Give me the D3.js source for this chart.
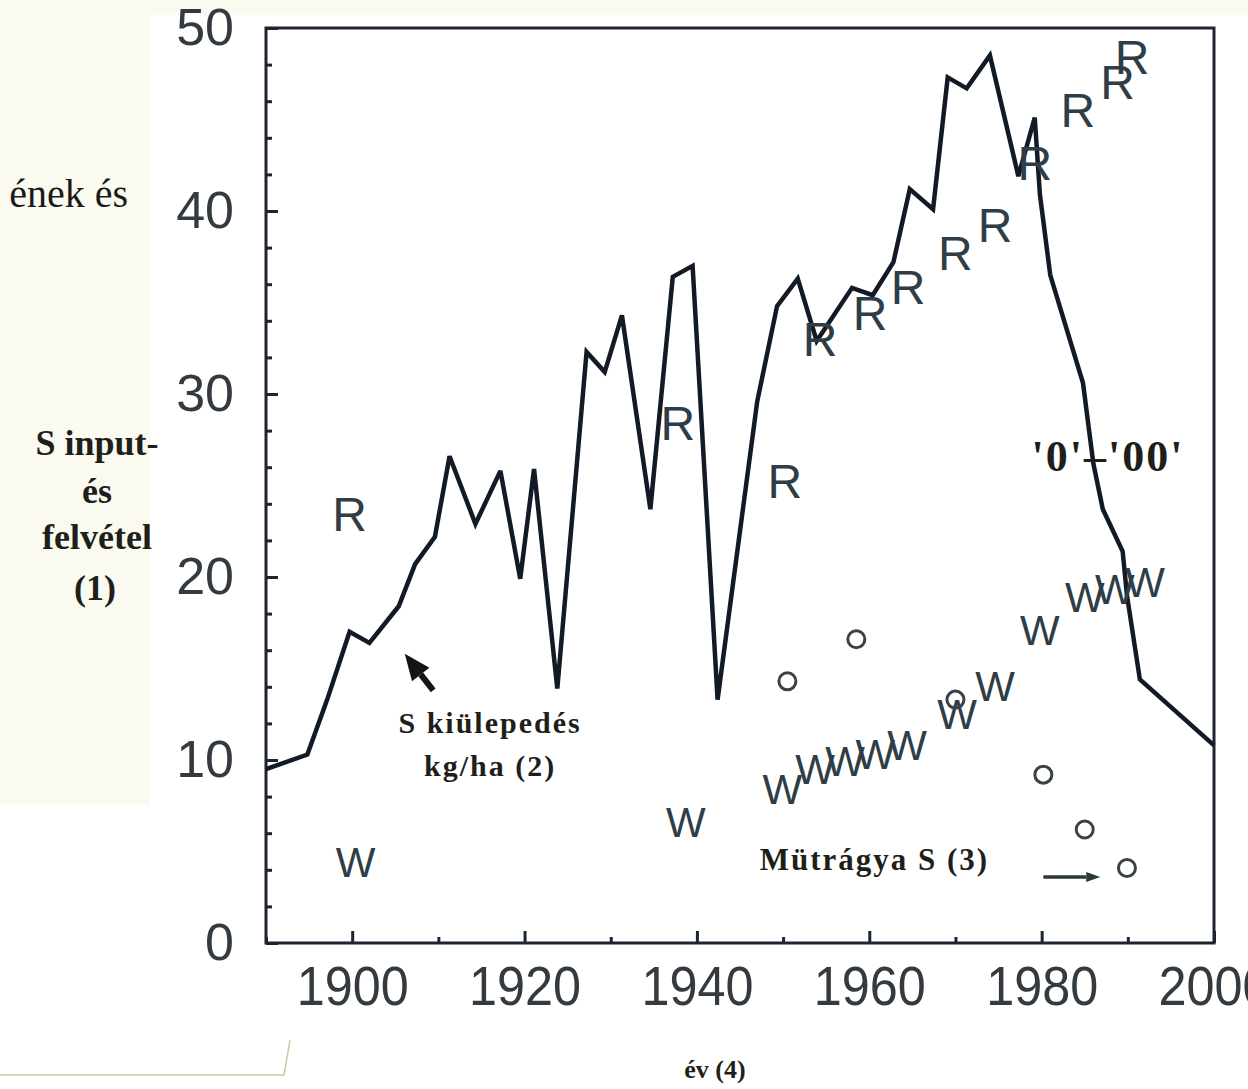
<!DOCTYPE html>
<html>
<head>
<meta charset="utf-8">
<script src="https://cdn.jsdelivr.net/npm/d3@7"></script>
<style>
  body { margin: 0; background: #fff; }
  svg { display: block; }
</style>
</head>
<body>
<svg id="chart" width="1248" height="1089"></svg>
<script>
// S kiülepedés (deposition) line
const depYears = [1890, 1894.8, 1897.1, 1899.7, 1902.0, 1905.4, 1907.3, 1909.6, 1911.3, 1914.3,
  1917.2, 1919.5, 1921.1, 1923.8, 1927.2, 1929.3, 1931.3, 1934.6, 1937.2, 1939.5,
  1942.4, 1947.0, 1949.3, 1951.7, 1953.9, 1958.0, 1960.4, 1962.8, 1964.7, 1967.4,
  1969.1, 1971.3, 1974.0, 1977.3, 1979.2, 1979.8, 1981.0, 1984.8, 1986.0, 1987.1,
  1989.4, 1989.9, 1991.4, 2000];
const depValues = [9.5, 10.3, 13.3, 17.0, 16.4, 18.4, 20.7, 22.2, 26.6, 22.9,
  25.8, 19.9, 25.9, 13.9, 32.3, 31.2, 34.3, 23.7, 36.4, 37.0,
  13.3, 29.6, 34.8, 36.3, 32.9, 35.8, 35.4, 37.2, 41.2, 40.1,
  47.3, 46.7, 48.5, 41.9, 45.1, 40.9, 36.5, 30.6, 26.2, 23.7,
  21.4, 19.0, 14.4, 10.8];

// "R" markers
const rYears = [1899.7, 1937.8, 1950.2, 1954.3, 1960.1, 1964.5, 1970.0, 1974.6, 1979.2, 1984.2, 1988.8, 1990.5];
const rValues = [23.4, 28.4, 25.2, 33.0, 34.4, 35.8, 37.7, 39.2, 42.6, 45.5, 47.0, 48.4];

// "W" markers
const wYears = [1900.4, 1938.7, 1949.9, 1953.7, 1957.2, 1960.7, 1964.4, 1970.2, 1974.6, 1979.8, 1985.0, 1988.5, 1992.0];
const wValues = [4.4, 6.6, 8.4, 9.5, 9.9, 10.3, 10.8, 12.5, 14.0, 17.1, 18.9, 19.3, 19.7];

// Mütrágya S (fertiliser) circles
const fertYears = [1950.5, 1958.5, 1970.0, 1980.2, 1985.0, 1989.9];
const fertValues = [14.3, 16.6, 13.3, 9.2, 6.2, 4.1];

// ticks
const xTicks = [1900, 1920, 1940, 1960, 1980, 2000];
const xMinorTicks = [1890, 1910, 1930, 1950, 1970, 1990];
const yTicks = [0, 10, 20, 30, 40, 50];

const svg = d3.select("#chart");
const ink = "#1d2530";
const serif = "'Liberation Serif', 'DejaVu Serif', serif";
const sans = "'Liberation Sans', Arial, sans-serif";

// slide background (cream) behind the pasted white figure
svg.append("rect").attr("width", 1248).attr("height", 1089).attr("fill", "#ffffff");
svg.append("rect").attr("width", 1248).attr("height", 15).attr("fill", "#fafaf0");
svg.append("rect").attr("width", 150).attr("height", 805).attr("fill", "#fafaf0");
svg.append("path")
  .attr("d", "M0,1075 L284,1075 L290,1040")
  .attr("fill", "none").attr("stroke", "#cfc7a8").attr("stroke-width", 1.5);

// cut-off slide text
svg.append("text")
  .attr("x", 128).attr("y", 207)
  .attr("text-anchor", "end")
  .attr("font-family", serif).attr("font-size", 40).attr("fill", "#1a1a1a")
  .text("ének és");

const x = d3.scaleLinear().domain([1890, 2000]).range([266, 1214]);
const y = d3.scaleLinear().domain([0, 50]).range([943, 28]);

// minor ticks
svg.append("g")
  .attr("transform", `translate(0,${y(0)})`)
  .call(d3.axisBottom(x).tickValues(xMinorTicks).tickSize(-6).tickFormat(""))
  .call(g => g.select(".domain").remove())
  .selectAll("line").attr("stroke", ink).attr("stroke-width", 3);

svg.append("g")
  .attr("transform", `translate(${x(1890)},0)`)
  .call(d3.axisLeft(y).tickValues(d3.range(0, 51, 2)).tickSize(-6).tickFormat(""))
  .call(g => g.select(".domain").remove())
  .selectAll("line").attr("stroke", ink).attr("stroke-width", 3);

// major axes
const gx = svg.append("g")
  .attr("transform", `translate(0,${y(0)})`)
  .call(d3.axisBottom(x).tickValues(xTicks).tickFormat(d3.format("d")).tickSize(-12).tickPadding(22));
gx.select(".domain").remove();
gx.selectAll("line").attr("stroke", ink).attr("stroke-width", 3);
gx.selectAll("text")
  .attr("font-family", sans).attr("font-size", 56).attr("fill", "#333b40")
  .attr("textLength", 112).attr("lengthAdjust", "spacingAndGlyphs");

const gy = svg.append("g")
  .attr("transform", `translate(${x(1890)},0)`)
  .call(d3.axisLeft(y).tickValues(yTicks).tickSize(-12).tickPadding(32));
gy.select(".domain").remove();
gy.selectAll("line").attr("stroke", ink).attr("stroke-width", 3);
gy.selectAll("text")
  .attr("font-family", sans).attr("font-size", 52).attr("fill", "#333b40");

// frame
svg.append("rect")
  .attr("x", x(1890)).attr("y", y(50))
  .attr("width", x(2000) - x(1890)).attr("height", y(0) - y(50))
  .attr("fill", "none").attr("stroke", ink).attr("stroke-width", 3);

// deposition line
const line = d3.line().x(d => x(d[0])).y(d => y(d[1]));
svg.append("path")
  .datum(depYears.map((yr, i) => [yr, depValues[i]]))
  .attr("d", line)
  .attr("fill", "none").attr("stroke", "#121a26")
  .attr("stroke-width", 4.5).attr("stroke-linejoin", "miter").attr("stroke-miterlimit", 3);

// R markers
svg.append("g").selectAll("text")
  .data(rYears.map((yr, i) => [yr, rValues[i]]))
  .join("text")
  .attr("x", d => x(d[0])).attr("y", d => y(d[1]))
  .attr("text-anchor", "middle").attr("dominant-baseline", "central")
  .attr("font-family", sans).attr("font-size", 48).attr("fill", "#2f3d46")
  .text("R");

// W markers
svg.append("g").selectAll("text")
  .data(wYears.map((yr, i) => [yr, wValues[i]]))
  .join("text")
  .attr("x", d => x(d[0])).attr("y", d => y(d[1]))
  .attr("text-anchor", "middle").attr("dominant-baseline", "central")
  .attr("font-family", sans).attr("font-size", 42).attr("fill", "#2f3d46")
  .text("W");

// fertiliser circles
svg.append("g").selectAll("circle")
  .data(fertYears.map((yr, i) => [yr, fertValues[i]]))
  .join("circle")
  .attr("cx", d => x(d[0])).attr("cy", d => y(d[1])).attr("r", 8.5)
  .attr("fill", "none").attr("stroke", "#3a4248").attr("stroke-width", 3);

// arrows
function arrow(x1, y1, x2, y2, head, half, width, colour) {
  const a = Math.atan2(y2 - y1, x2 - x1);
  const bx = x2 - head * Math.cos(a), by = y2 - head * Math.sin(a);
  svg.append("line")
    .attr("x1", x1).attr("y1", y1).attr("x2", bx).attr("y2", by)
    .attr("stroke", colour).attr("stroke-width", width);
  svg.append("path")
    .attr("d", `M${x2},${y2} L${bx + half * Math.sin(a)},${by - half * Math.cos(a)} L${bx - half * Math.sin(a)},${by + half * Math.cos(a)} Z`)
    .attr("fill", colour);
}
arrow(x(1909.4), y(13.8), x(1906.1), y(15.8), 26, 11, 6, "#141414");
arrow(x(1980.2), y(3.6), x(1986.8), y(3.6), 14, 5, 3.5, "#2c3a30");

// annotations
const bold = (t, px, py, size, extra) => svg.append("text")
  .attr("x", px).attr("y", py)
  .attr("text-anchor", "middle")
  .attr("font-family", serif).attr("font-weight", "bold")
  .attr("font-size", size).attr("fill", "#1f1f1a")
  .attr("letter-spacing", extra || 0)
  .text(t);

bold("S kiülepedés", x(1916), y(11.5), 30, 2);
bold("kg/ha (2)", x(1916), y(9.1), 30, 2);
bold("Mütrágya S (3)", x(1960.6), y(4.0), 31, 2);
bold("'0'–'00'", x(1987.7), y(25.8), 44, 2);

// axis titles
bold("S input-", 97, 455, 36, 0);
bold("és", 97, 503, 36, 0);
bold("felvétel", 97, 549, 36, 0);
bold("(1)", 95, 600, 36, 0);
bold("év (4)", 715, 1078, 26, 0);
</script>
</body>
</html>
